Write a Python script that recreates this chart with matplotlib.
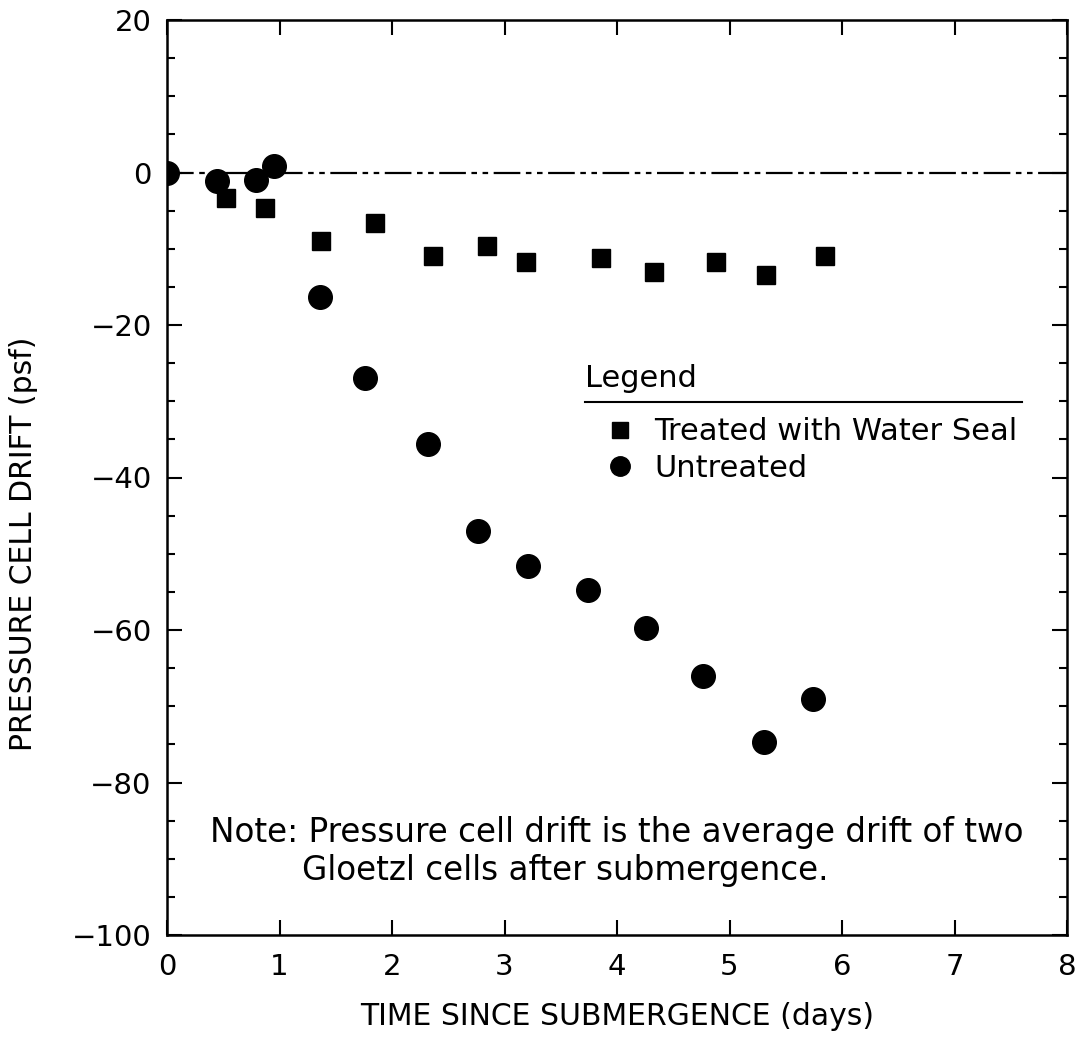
import numpy as np
import matplotlib.pyplot as plt
from matplotlib.lines import Line2D

# days since submergence / drift (psf)
t_treated = [0.52, 0.87, 1.37, 1.85, 2.36, 2.84, 3.19, 3.86, 4.33, 4.88, 5.32, 5.85]
drift_treated = [-3.3, -4.6, -9.0, -6.6, -11.0, -9.6, -11.7, -11.2, -13.0, -11.7, -13.4, -11.0]

t_untreated = [0.0, 0.44, 0.79, 0.95, 1.36, 1.76, 2.32, 2.76, 3.21, 3.74, 4.26, 4.76, 5.31, 5.74]
drift_untreated = [0.0, -1.1, -1.0, 0.8, -16.3, -27.0, -35.6, -47.0, -51.6, -54.8, -59.7, -66.0, -74.7, -69.0]

plt.rcParams['font.family'] = 'DejaVu Sans'
fs_tick = 21
fs_lab = 21.5
fs_txt = 22
fs_note = 23.5

fig = plt.figure(figsize=(10.84, 10.38), dpi=100)
ax = fig.add_axes([167 / 1084, 1 - 935 / 1038, 900 / 1084, 915 / 1038])

# zero reference line
ax.plot([0, 8], [0, 0], color='black', lw=1.6, dashes=(12, 2.5, 2.5, 2.5, 2.5, 2.5), zorder=1)

ax.plot(t_treated, drift_treated, 's', color='black', ms=13.5, zorder=3)
ax.plot(t_untreated, drift_untreated, 'o', color='black', ms=17, zorder=3)

ax.set_xlim(0, 8)
ax.set_ylim(-100, 20)
ax.set_xticks(np.arange(0, 9, 1))
ax.set_yticks(np.arange(-100, 21, 20))
ax.set_yticks(np.arange(-100, 21, 5), minor=True)
ax.set_yticklabels(['\u2212100', '\u221280', '\u221260', '\u221240', '\u221220', '0', '20'])

ax.tick_params(which='both', direction='in', top=True, right=True, width=1.5, labelsize=fs_tick)
ax.tick_params(which='major', length=11)
ax.tick_params(which='minor', length=6)
ax.tick_params(axis='y', pad=11)
ax.tick_params(axis='x', pad=13)
for s in ax.spines.values():
    s.set_linewidth(1.8)

ax.set_xlabel('TIME SINCE SUBMERGENCE (days)', fontsize=fs_lab)
ax.set_ylabel('PRESSURE CELL DRIFT (psf)', fontsize=fs_lab)
ax.xaxis.label.set_va('center')
ax.yaxis.label.set_va('center')
ax.xaxis.set_label_coords(0.5, -0.0896)
ax.yaxis.set_label_coords(-0.159, 0.428)

# legend block
ax.text(0.4644, 0.6087, 'Legend', transform=ax.transAxes, fontsize=fs_txt, va='center', ha='left')
ax.plot([0.4644, 0.95], [0.5825, 0.5825], transform=ax.transAxes, color='black', lw=1.5)
handles = [Line2D([], [], ls='none', marker='s', color='black', ms=11),
           Line2D([], [], ls='none', marker='o', color='black', ms=14)]
ax.legend(handles, ['Treated with Water Seal', 'Untreated'], loc='upper left',
          bbox_to_anchor=(0.463, 0.589), frameon=False, fontsize=fs_txt,
          handlelength=1.0, handletextpad=0.6, labelspacing=0.25, borderpad=0.2)

ax.text(0.048, 0.112, 'Note: Pressure cell drift is the average drift of two',
        transform=ax.transAxes, fontsize=fs_note, va='center', ha='left')
ax.text(0.15, 0.07, 'Gloetzl cells after submergence.',
        transform=ax.transAxes, fontsize=fs_note, va='center', ha='left')

fig.savefig('out.png', dpi=100)
